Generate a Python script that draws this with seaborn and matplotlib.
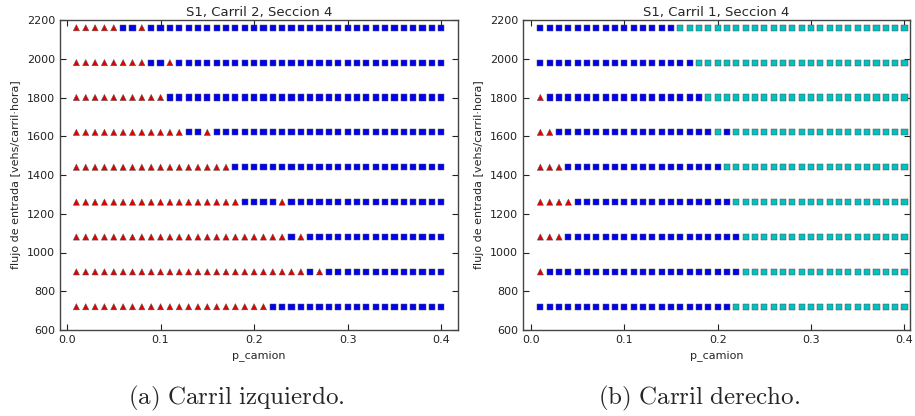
import numpy as np
import pandas as pd
import matplotlib
matplotlib.use("Agg")
import matplotlib.pyplot as plt
import seaborn as sns

# ---- data ----
p_camion = [round(0.01 * i, 2) for i in range(1, 41)]
flujos = [2160, 1980, 1800, 1620, 1440, 1260, 1080, 900, 720]

# T = red triangle, B = blue square, C = cyan square (one char per p_camion value)
left_rows = [
    "TTTTTBBT" + "B" * 32,
    "TTTTTTTTBBT" + "B" * 29,
    "TTTTTTTTTT" + "B" * 30,
    "TTTTTTTTTTTTBBT" + "B" * 25,
    "TTTTTTTTTTTTTTTTT" + "B" * 23,
    "TTTTTTTTTTTTTTTTTTBBBBT" + "B" * 17,
    "TTTTTTTTTTTTTTTTTTTTTTTBT" + "B" * 15,
    "TTTTTTTTTTTTTTTTTTTTTTTTTBT" + "B" * 13,
    "TTTTTTTTTTTTTTTTTTTTT" + "B" * 19,
]
right_rows = [
    "B" * 15 + "C" * 25,
    "B" * 17 + "C" * 23,
    "T" + "B" * 17 + "C" * 22,
    "TT" + "B" * 17 + "CB" + "C" * 19,
    "TTT" + "B" * 17 + "C" * 20,
    "TTTT" + "B" * 17 + "C" * 19,
    "TTT" + "B" * 19 + "C" * 18,
    "T" + "B" * 21 + "C" * 18,
    "B" * 21 + "C" * 19,
]
titles = ["S1, Carril 2, Seccion 4", "S1, Carril 1, Seccion 4"]
captions = ["(a) Carril izquierdo.", "(b) Carril derecho."]
y_ticks = [600, 800, 1000, 1200, 1400, 1600, 1800, 2000, 2200]
x_ticks = [0.0, 0.1, 0.2, 0.3, 0.4]


def build(rows):
    recs = []
    for y, row in zip(flujos, rows):
        for x, c in zip(p_camion, row):
            recs.append({"p_camion": x, "flujo": y, "clase": c})
    return pd.DataFrame(recs)


sns.set_style("white")
plt.rcParams.update({
    "font.family": ["DejaVu Sans"],
    "xtick.direction": "in", "ytick.direction": "in",
    "xtick.top": True, "ytick.right": True,
    "xtick.major.size": 4, "ytick.major.size": 4,
    "xtick.bottom": True, "ytick.left": True,
    "mathtext.fontset": "cm",
})

palette = {"T": "#e00000", "B": "#0000f0", "C": "#00c0c0"}
markers = {"T": "^", "B": "s", "C": "s"}

fig = plt.figure(figsize=(9.15, 4.16), dpi=100)
W, H = 915, 416
axes_px = [(60, 458, (-0.0075, 0.418)), (523, 910, (-0.0086, 0.406))]
caption_x = [236, 699]
for i, (rows, (x0, x1, xl)) in enumerate(zip([left_rows, right_rows], axes_px)):
    ax = fig.add_axes([x0 / W, (H - 330) / H, (x1 - x0) / W, 310 / H])
    df = build(rows)
    sns.scatterplot(data=df, x="p_camion", y="flujo", hue="clase", style="clase",
                    palette=palette, markers=markers, s=20, edgecolor="#555555",
                    linewidth=0.35, legend=False, ax=ax)
    ax.set_xlim(*xl)
    ax.set_ylim(600, 2200)
    ax.set_xticks(x_ticks)
    ax.set_xticklabels([f"{v:.1f}" for v in x_ticks])
    ax.set_yticks(y_ticks)
    ax.tick_params(labelsize=8, width=0.8, colors="#222222")
    for sp in ax.spines.values():
        sp.set_color("#444444")
        sp.set_linewidth(1.0)
    ax.set_title(titles[i], fontsize=9.5, pad=3)
    ax.set_xlabel("p_camion", fontsize=8)
    ax.set_ylabel("flujo de entrada [vehs/carril·hora]", fontsize=8)
    fig.text(caption_x[i] / W, (H - 398) / H,
             r"$\mathrm{" + captions[i].replace(" ", r"\ ") + "}$",
             ha="center", va="center", fontsize=18)

fig.savefig("out.png", dpi=100)
